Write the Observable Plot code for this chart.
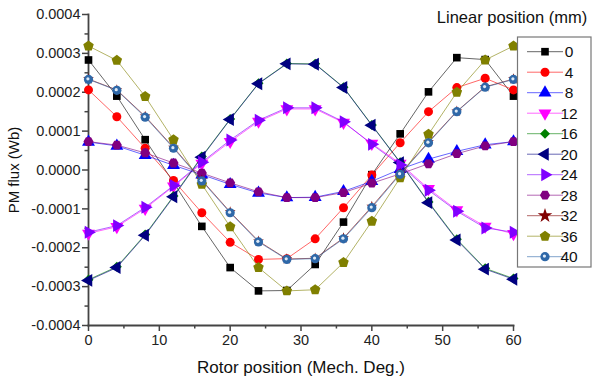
<!DOCTYPE html>
<html><head><meta charset="utf-8">
<script src="https://cdn.jsdelivr.net/npm/d3@7"></script>
<script src="https://cdn.jsdelivr.net/npm/@observablehq/plot@0.6"></script>
<style>
body{margin:0;background:#fff;font-family:"Liberation Sans",Arial,sans-serif;}
#chart{position:relative;width:602px;height:379px;}
</style></head><body><div id="chart"></div>
<script>
// Rotor position (Mech. Deg.)
const rotor = [0,4,8,12,16,20,24,28,32,36,40,44,48,52,56,60];
// Linear positions (mm)
const linearPositions = [0,4,8,12,16,20,24,28,32,36,40];
// PM flux (Wb) per linear position
const flux0  = [0.000283,0.000190,0.000078,-0.000032,-0.000145,-0.000251,-0.000311,-0.000310,-0.000243,-0.000134,-0.000012,0.000093,0.000201,0.000289,0.000284,0.000190];
const flux4  = [0.000206,0.000137,0.000056,-0.000027,-0.000110,-0.000186,-0.000230,-0.000228,-0.000177,-0.000097,-0.000013,0.000070,0.000150,0.000212,0.000236,0.000206];
const flux8  = [0.000072,0.000062,0.000038,0.000012,-0.000012,-0.000037,-0.000059,-0.000071,-0.000070,-0.000055,-0.000029,0.000002,0.000028,0.000048,0.000065,0.000073];
const flux12 = [-0.000163,-0.000146,-0.000099,-0.000042,0.000017,0.000073,0.000125,0.000157,0.000157,0.000122,0.000068,0.000017,-0.000048,-0.000103,-0.000145,-0.000164];
const flux16 = [-0.000282,-0.000249,-0.000166,-0.000067,0.000035,0.000131,0.000223,0.000274,0.000273,0.000213,0.000116,0.000020,-0.000082,-0.000178,-0.000253,-0.000279];
const flux20 = [-0.000284,-0.000251,-0.000168,-0.000069,0.000033,0.000130,0.000222,0.000273,0.000272,0.000212,0.000115,0.000019,-0.000084,-0.000180,-0.000255,-0.000281];
const flux24 = [-0.000160,-0.000143,-0.000096,-0.000040,0.000020,0.000077,0.000128,0.000160,0.000160,0.000124,0.000066,0.000013,-0.000052,-0.000106,-0.000149,-0.000160];
const flux28 = [0.000073,0.000064,0.000044,0.000018,-0.000008,-0.000033,-0.000056,-0.000071,-0.000071,-0.000058,-0.000034,-0.000010,0.000016,0.000042,0.000062,0.000073];
const flux32 = [0.000234,0.000206,0.000138,0.000058,-0.000026,-0.000108,-0.000183,-0.000229,-0.000227,-0.000175,-0.000094,-0.000009,0.000072,0.000151,0.000214,0.000234];
const flux36 = [0.000319,0.000282,0.000189,0.000078,-0.000037,-0.000146,-0.000251,-0.000311,-0.000308,-0.000238,-0.000132,-0.000020,0.000092,0.000200,0.000283,0.000319];
const flux40 = [0.000233,0.000205,0.000136,0.000056,-0.000028,-0.000110,-0.000185,-0.000230,-0.000228,-0.000177,-0.000097,-0.000011,0.000070,0.000150,0.000213,0.000233];
// Axis ticks
const yTicks = [-0.0004,-0.0003,-0.0002,-0.0001,0,0.0001,0.0002,0.0003,0.0004];
const yMinor = [-0.00035,-0.00025,-0.00015,-0.00005,0.00005,0.00015,0.00025,0.00035];
const xTicks = [0,10,20,30,40,50,60];
const xMinor = [5,15,25,35,45,55];

const fluxBySeries = [flux0,flux4,flux8,flux12,flux16,flux20,flux24,flux28,flux32,flux36,flux40];

// styles
const colors = ["#000000","#ff0000","#0000ff","#ff00ff","#008000","#000080","#8000ff","#800080","#800000","#808000","#2f68a8"];
function poly(n, rot) {
  return {draw(ctx, size) {
    const R = Math.sqrt(size / (0.5 * n * Math.sin(2 * Math.PI / n)));
    for (let k = 0; k < n; ++k) {
      const a = rot + 2 * Math.PI * k / n;
      const x = R * Math.cos(a), y = R * Math.sin(a);
      if (k === 0) ctx.moveTo(x, y); else ctx.lineTo(x, y);
    }
    ctx.closePath();
  }};
}
const symbols = [
  poly(4, Math.PI/4),        // square
  d3.symbolCircle,           // circle
  poly(3, -Math.PI/2),       // up triangle
  poly(3, Math.PI/2),        // down triangle
  poly(4, 0),                // diamond
  poly(3, Math.PI),          // left triangle
  poly(3, 0),                // right triangle
  poly(6, 0),                // hexagon
  d3.symbolStar,             // star
  poly(5, -Math.PI/2),       // pentagon
  d3.symbolCircle            // sphere
];
const sizes = [4.3,4.5,4.8,4.8,4.0,4.8,4.8,4.6,4.6,4.8,4.6];
const plotSizes = [4.3,4.5,4.8,4.8,4.0,4.8,4.8,4.6,3.4,4.8,4.6];

const table = linearPositions.flatMap((p, i) =>
  rotor.map((r, j) => ({pos: p, idx: i, rotor: r, flux: fluxBySeries[i][j]})));

const seriesMarks = linearPositions.flatMap((p, i) => {
  const d = table.filter(t => t.idx === i);
  const m = [
    Plot.line(d, {x: "rotor", y: "flux", stroke: colors[i], strokeWidth: 1, strokeOpacity: 0.6}),
    Plot.dot(d, {x: "rotor", y: "flux", symbol: symbols[i], r: plotSizes[i], fill: colors[i], stroke: "none"})
  ];
  if (i === 10) m.push(Plot.dot(d, {x: "rotor", y: "flux", r: 1.6, fill: "#dfeaf6", dx: -0.6, dy: -0.6}));
  return m;
});

const plot = Plot.plot({
  width: 602, height: 379,
  marginLeft: 88, marginRight: 89, marginTop: 14, marginBottom: 54,
  style: {fontFamily: '"Liberation Sans", Arial, sans-serif', background: "#fff", color: "#222", overflow: "visible"},
  x: {domain: [0, 60]},
  y: {domain: [-0.0004, 0.0004]},
  marks: [
    Plot.axisY({ticks: yTicks, tickFormat: d => d.toFixed(4), tickSize: 6, tickPadding: 2, fontSize: 14.5, label: null, stroke: "#444", strokeWidth: 1.5}),
    Plot.axisY({ticks: yMinor, tickFormat: () => "", tickSize: 3.5, label: null, stroke: "#444", strokeWidth: 1.5}),
    Plot.axisX({ticks: xTicks, tickSize: 6, tickPadding: 3, fontSize: 14.5, label: null, stroke: "#444", strokeWidth: 1.5}),
    Plot.axisX({ticks: xMinor, tickFormat: () => "", tickSize: 3.5, label: null, stroke: "#444", strokeWidth: 1.5}),
    Plot.frame({anchor: "left", stroke: "#444", strokeWidth: 1.8}),
    Plot.frame({anchor: "bottom", stroke: "#444", strokeWidth: 1.8}),
    ...seriesMarks,
    Plot.text(["PM flux (Wb)"], {text: d => d, frameAnchor: "left", dx: -74, rotate: -90, fontSize: 15, fill: "#111", textAnchor: "middle", lineAnchor: "middle"}),
    Plot.text(["Rotor position (Mech. Deg.)"], {text: d => d, frameAnchor: "bottom", dy: 42, fontSize: 17, fill: "#111", textAnchor: "middle", lineAnchor: "middle"})
  ]
});
document.getElementById("chart").appendChild(plot);

// Legend
const svg = d3.select(plot);
const lg = svg.append("g").attr("font-family", '"Liberation Sans", Arial, sans-serif');
lg.append("text").attr("x", 512).attr("y", 17).attr("text-anchor", "middle").attr("dominant-baseline", "central")
  .attr("font-size", 16.5).attr("fill", "#111").text("Linear position (mm)");
lg.append("rect").attr("x", 517.5).attr("y", 37).attr("width", 73.5).attr("height", 230)
  .attr("fill", "#fff").attr("stroke", "#777").attr("stroke-width", 1.2);
linearPositions.forEach((p, i) => {
  const y = 51.7 + 20.5 * i;
  lg.append("line").attr("x1", 527).attr("x2", 563).attr("y1", y).attr("y2", y)
    .attr("stroke", colors[i]).attr("stroke-opacity", 0.6).attr("stroke-width", 1);
  lg.append("path").attr("transform", `translate(545,${y})`)
    .attr("d", d3.symbol().type(symbols[i]).size(Math.PI * sizes[i] * sizes[i])())
    .attr("fill", colors[i]);
  if (i === 10) lg.append("circle").attr("cx", 544.4).attr("cy", y - 0.6).attr("r", 1.6).attr("fill", "#dfeaf6");
  lg.append("text").attr("x", 569).attr("y", y).attr("dominant-baseline", "central")
    .attr("font-size", 15.5).attr("fill", "#111").text(String(p));
});
</script></body></html>
